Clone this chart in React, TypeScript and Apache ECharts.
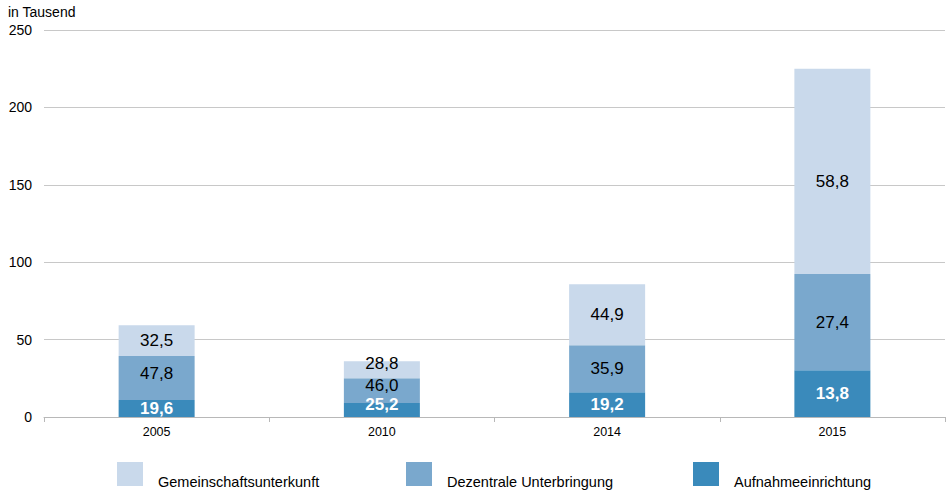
import React, { useEffect, useRef } from "react";
import * as echarts from "echarts";

const categories = ["2005", "2010", "2014", "2015"];
const aufnahmeValues = [11.0, 9.1, 16.0, 30.2];
const dezentralValues = [28.4, 15.9, 30.4, 62.1];
const gemeinschaftValues = [19.9, 11.0, 39.4, 132.6];
const aufnahmeLabels = ["19,6", "25,2", "19,2", "13,8"];
const dezentralLabels = ["47,8", "46,0", "35,9", "27,4"];
const gemeinschaftLabels = ["32,5", "28,8", "44,9", "58,8"];
const yTicks = [0, 50, 100, 150, 200, 250];
const seriesNames = ["Aufnahmeeinrichtung", "Dezentrale Unterbringung", "Gemeinschaftsunterkunft"];

const FONT = "'Liberation Sans', Arial, Helvetica, sans-serif";
const colors = ["#3a8abb", "#7aa8cd", "#c9d9eb"];

// vertical nudges for crowded labels, key: categoryIndex-seriesIndex
const offsets: Record<string, number[]> = {
  "0-1": [0, -4],
  "1-0": [0, -5],
  "1-1": [0, -5],
  "1-2": [0, -6],
  "3-2": [0, 10],
};

export default function App() {
  const ref = useRef<HTMLDivElement>(null);
  useEffect(() => {
    if (!ref.current) return;
    const chart = echarts.init(ref.current, null, { renderer: "svg" });
    const mk = (idx: number, name: string, values: number[], labels: string[], bold: boolean, color: string) => ({
      name,
      type: "bar",
      stack: "total",
      barWidth: 76,
      itemStyle: { color: colors[idx] },
      data: values.map((v, i) => ({
        value: v,
        label: offsets[`${i}-${idx}`] ? { offset: offsets[`${i}-${idx}`] } : undefined,
      })),
      label: {
        show: true,
        position: "inside",
        formatter: (p: any) => labels[p.dataIndex],
        color,
        fontSize: 17,
        fontWeight: bold ? "bold" : "normal",
        fontFamily: FONT,
      },
    });
    const legendAt = (left: number, name: string) => ({
      show: true,
      left,
      top: 462,
      padding: 0,
      orient: "horizontal",
      icon: "rect",
      itemWidth: 26,
      itemHeight: 24,
      data: [name],
      selectedMode: false,
      formatter: (n: string) => `{t|${n}}`,
      textStyle: {
        fontSize: 14.5,
        fontFamily: FONT,
        color: "#000",
        rich: {
          t: {
            fontSize: 14.5,
            fontFamily: FONT,
            color: "#000",
            padding: [16, 0, 0, 10],
          },
        },
      },
    });
    chart.setOption({
      animation: false,
      backgroundColor: "#fff",
      title: {
        text: "in Tausend",
        left: 3,
        top: 0,
        textStyle: { fontSize: 14, fontWeight: "normal", color: "#000", fontFamily: FONT },
      },
      legend: [
        legendAt(117, seriesNames[2]),
        legendAt(406, seriesNames[1]),
        legendAt(693, seriesNames[0]),
      ],
      grid: { left: 44, right: 7, top: 30, bottom: 73 },
      xAxis: {
        type: "category",
        data: categories,
        axisLine: { lineStyle: { color: "#b8b8b8", width: 1 } },
        axisTick: { show: true, length: 5, lineStyle: { color: "#b8b8b8" } },
        axisLabel: { color: "#000", fontSize: 12.5, fontFamily: FONT, margin: 8 },
      },
      yAxis: {
        type: "value",
        min: yTicks[0],
        max: yTicks[yTicks.length - 1],
        interval: 50,
        axisLine: { show: false },
        axisTick: { show: false },
        splitLine: { lineStyle: { color: "#c8c8c8", width: 1 } },
        axisLabel: { color: "#000", fontSize: 14, fontFamily: FONT, margin: 12 },
      },
      series: [
        mk(0, seriesNames[0], aufnahmeValues, aufnahmeLabels, true, "#fff"),
        mk(1, seriesNames[1], dezentralValues, dezentralLabels, false, "#000"),
        mk(2, seriesNames[2], gemeinschaftValues, gemeinschaftLabels, false, "#000"),
      ],
    });
    return () => chart.dispose();
  }, []);
  return (
    <div
      ref={ref}
      style={{ position: "absolute", left: 0, top: 0, width: 952, height: 490 }}
    />
  );
}
